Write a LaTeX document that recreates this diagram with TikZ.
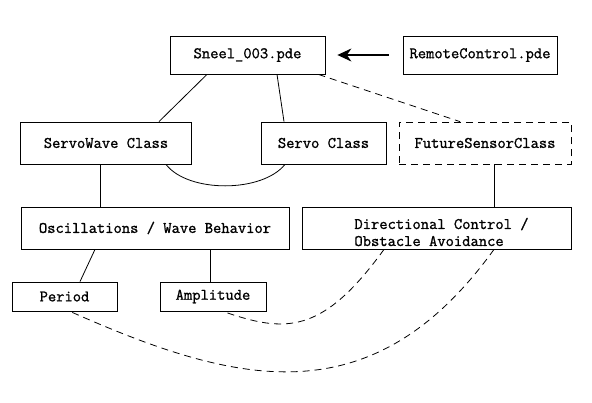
\documentclass[tikz,border=0pt]{standalone}
\usepackage{fontspec}
\newfontfamily\courfont{Latin Modern Mono}[AutoFakeBold=1.1]
\usetikzlibrary{arrows.meta}
\begin{document}
\begin{tikzpicture}[x=1pt,y=-1pt,
  box/.style={draw, line width=0.8pt, inner sep=0pt, font=\courfont\bfseries\fontsize{16.1}{17}\selectfont},
  dbox/.style={box, dashed, dash pattern=on 7pt off 5pt},
  txt/.style={inner sep=0pt, align=left, font=\courfont\bfseries\fontsize{16.1}{17}\selectfont},
  link/.style={line width=0.8pt},
  dlink/.style={line width=0.8pt, dash pattern=on 7pt off 5pt}]
\useasboundingbox (0,0) rectangle (592,402);
\fill[white] (0,0) rectangle (592,402);
\node[box, minimum width=155pt, minimum height=38pt] (sneel) at (247.5,55) {Sneel\_003.pde};
\node[box, minimum width=154pt, minimum height=38pt] (remote) at (480,55) {RemoteControl.pde};
\node[box, minimum width=171pt, minimum height=42pt] (servowave) at (106,143) {ServoWave Class};
\node[box, minimum width=125pt, minimum height=42pt] (servo) at (323.5,143) {Servo Class};
\node[dbox, minimum width=172pt, minimum height=42pt] (future) at (485,143) {FutureSensorClass};
\node[box, minimum width=268pt, minimum height=42pt] (osc) at (155,228) {Oscillations / Wave Behavior};
\node[box, minimum width=269pt, minimum height=42pt] (dir) at (436.5,228) {};
\node[txt] (dirtext) at ([shift={(5,4)}]dir.center) {Directional Control /\\Obstacle Avoidance};
\node[box, minimum width=105pt, minimum height=29pt] (period) at (64.5,296.5) {Period};
\node[box, minimum width=106pt, minimum height=29pt] (amp) at (213,296.5) {Amplitude};

\draw[link, -{Stealth[length=14pt,width=13pt]}, line width=1.3pt] ([xshift=-14pt]remote.west) -- ([xshift=12pt]sneel.east);
\draw[link] ([xshift=-40.5pt]sneel.south) -- ([xshift=53pt]servowave.north);
\draw[link] ([xshift=29.5pt]sneel.south) -- ([xshift=-39.5pt]servo.north);
\draw[dlink] ([xshift=-7pt]sneel.south east) -- ([xshift=-25pt]future.north);
\draw[link] ([xshift=60pt]servowave.south) .. controls (188,193) and (262,193) .. ([xshift=-38.5pt]servo.south);
\draw[link] ([xshift=-6pt]servowave.south) -- ([xshift=-55pt]osc.north);
\draw[link] ([xshift=9pt]future.south) -- ([xshift=57.5pt]dir.north);
\draw[link] ([xshift=-60pt]osc.south) -- ([xshift=15.5pt]period.north);
\draw[link] ([xshift=55pt]osc.south) -- ([xshift=-3pt]amp.north);
\draw[dlink] ([xshift=-52.5pt]dir.south) .. controls (322,335) and (285,333) .. ([xshift=10pt]amp.south);
\draw[dlink] ([xshift=57.5pt]dir.south) .. controls (371,420) and (234,384) .. ([xshift=5.5pt]period.south);
\end{tikzpicture}
\end{document}
